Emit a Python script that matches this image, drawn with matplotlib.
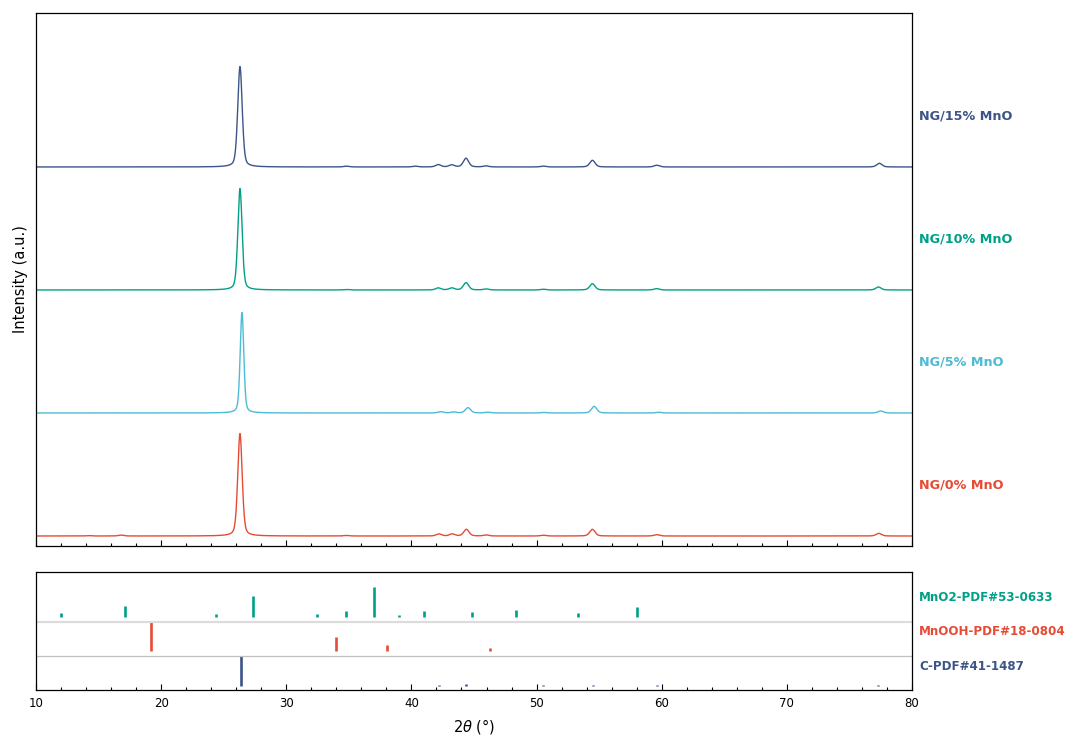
import numpy as np
import matplotlib
matplotlib.use("Agg")
import matplotlib.pyplot as plt
from matplotlib.ticker import MultipleLocator
import matplotlib.transforms as mtransforms

# ---------------- data ----------------
samples = ["NG/0% MnO", "NG/5% MnO", "NG/10% MnO", "NG/15% MnO"]
colors = ["#E64B35", "#4DBBD5", "#00A087", "#3C5488"]

# peak positions (2theta, deg) and heights (relative, main peak ~100)
ng0_pos = [14.2, 16.8, 26.30, 34.8, 42.20, 43.25, 44.39, 45.96, 50.54, 54.46, 59.60, 77.34]
ng0_int = [0.4, 0.9, 100.0, 0.5, 2.0, 2.0, 6.5, 1.0, 0.7, 6.5, 1.3, 2.6]

ng5_pos = [26.46, 42.34, 43.35, 44.52, 46.10, 50.6, 54.60, 59.75, 77.50]
ng5_int = [98.0, 1.3, 1.0, 5.2, 0.7, 0.5, 6.5, 0.7, 2.0]

ng10_pos = [26.30, 34.8, 42.15, 43.22, 44.36, 45.96, 50.54, 54.46, 59.60, 77.32]
ng10_int = [99.0, 0.5, 2.0, 2.0, 7.1, 1.0, 0.7, 6.1, 1.3, 2.9]

ng15_pos = [26.30, 34.8, 40.3, 42.15, 43.22, 44.36, 45.96, 50.54, 54.46, 59.60, 77.39]
ng15_int = [98.0, 0.8, 0.8, 2.3, 2.0, 8.5, 1.0, 0.8, 6.5, 1.7, 3.6]

peak_pos = [ng0_pos, ng5_pos, ng10_pos, ng15_pos]
peak_int = [ng0_int, ng5_int, ng10_int, ng15_int]
main_fwhm = [0.42, 0.34, 0.40, 0.42]

# reference cards (stick patterns)
card_names = ["C-PDF#41-1487", "MnOOH-PDF#18-0804", "MnO2-PDF#53-0633"]
card_colors = ["#3C5488", "#E64B35", "#00A087"]
c_pos = [26.38, 42.2, 44.4, 50.5, 54.5, 59.6, 77.3]
c_int = [100, 3, 5, 2, 3, 2, 3]
mnooh_pos = [19.16, 33.97, 38.08, 46.30, 59.6, 61.85]
mnooh_int = [100, 48, 20, 10, 1, 1]
mno2_pos = [12.02, 17.14, 24.41, 27.31, 32.46, 34.75, 37.04, 39.02, 41.04, 44.81, 48.38, 53.30, 58.01]
mno2_int = [13, 37, 10, 70, 9, 19, 100, 7, 20, 16, 23, 13, 34]
card_pos = [c_pos, mnooh_pos, mno2_pos]
card_int = [c_int, mnooh_int, mno2_int]

xticks = [10, 20, 30, 40, 50, 60, 70, 80]

# ---------------- figure ----------------
plt.rcParams['font.family'] = ['DejaVu Sans']
fig = plt.figure(figsize=(10.8, 7.46), dpi=100)

L, R = 36 / 1080, 912 / 1080
ax1 = fig.add_axes([L, 1 - 546 / 746, R - L, (546 - 13) / 746])
ax2 = fig.add_axes([L, 1 - 690 / 746, R - L, (690 - 572) / 746])

x = np.linspace(10, 80, 7001)


def pv(xx, c, h, w, eta=0.35):
    g = np.exp(-4 * np.log(2) * ((xx - c) / w) ** 2)
    lo = 1.0 / (1.0 + 4 * ((xx - c) / w) ** 2)
    return h * (eta * lo + (1 - eta) * g)


step = 1.2
for i, (pp, ii, col) in enumerate(zip(peak_pos, peak_int, colors)):
    y = np.zeros_like(x)
    for p, h in zip(pp, ii):
        w = main_fwhm[i] if h > 50 else 0.5
        y += pv(x, p, h / 100.0, w)
    ax1.plot(x, y + i * step, color=col, lw=1.0)

ax1.set_xlim(10, 80)
ax1.set_ylim(-0.0976, 5.102)
ax1.set_yticks([])
ax1.xaxis.set_major_locator(MultipleLocator(10))
ax1.xaxis.set_minor_locator(MultipleLocator(2))
ax1.tick_params(axis='x', which='both', direction='in', labelbottom=False, width=0.8)
ax1.tick_params(axis='x', which='major', length=4)
ax1.tick_params(axis='x', which='minor', length=2.5)
ax1.set_ylabel("Intensity (a.u.)", fontsize=10.5, labelpad=6)

tr1 = mtransforms.blended_transform_factory(ax1.transAxes, ax1.transData)
for i, (name, col) in enumerate(zip(samples, colors)):
    ax1.text(1.008, i * step + 0.5, name, transform=tr1, color=col,
             fontsize=9.2, fontweight='bold', va='center', ha='left')

# ---------------- stick panel ----------------
unit = 0.88
bases = [0.12, 1.147, 2.156]
for k, (pp, ii, col) in enumerate(zip(card_pos, card_int, card_colors)):
    pp = np.array(pp)
    hh = np.array(ii) / 100.0 * unit
    ax2.vlines(pp, bases[k], bases[k] + hh, color=col, lw=1.9)

ax2.axhline(2.0, color='#dcdcdc', lw=1.6)
ax2.axhline(1.0, color='#c0c0c0', lw=0.9)
ax2.set_xlim(10, 80)
ax2.set_ylim(0, 3.47)
ax2.set_yticks([])
ax2.set_xticks(xticks)
ax2.xaxis.set_minor_locator(MultipleLocator(2))
ax2.tick_params(axis='x', which='both', direction='in', width=0.8, labelsize=8.5, pad=5)
ax2.tick_params(axis='x', which='major', length=4)
ax2.tick_params(axis='x', which='minor', length=2.5)
ax2.set_xlabel(r"2$\theta$ (°)", fontsize=10.5, labelpad=5)

tr2 = mtransforms.blended_transform_factory(ax2.transAxes, ax2.transData)
label_y = [0.68, 1.71, 2.72]
for k, (name, col) in enumerate(zip(card_names, card_colors)):
    ax2.text(1.008, label_y[k], name, transform=tr2, color=col,
             fontsize=8.6, fontweight='bold', va='center', ha='left')

for ax in (ax1, ax2):
    for s in ax.spines.values():
        s.set_linewidth(0.9)

fig.savefig("out.png", dpi=100)
